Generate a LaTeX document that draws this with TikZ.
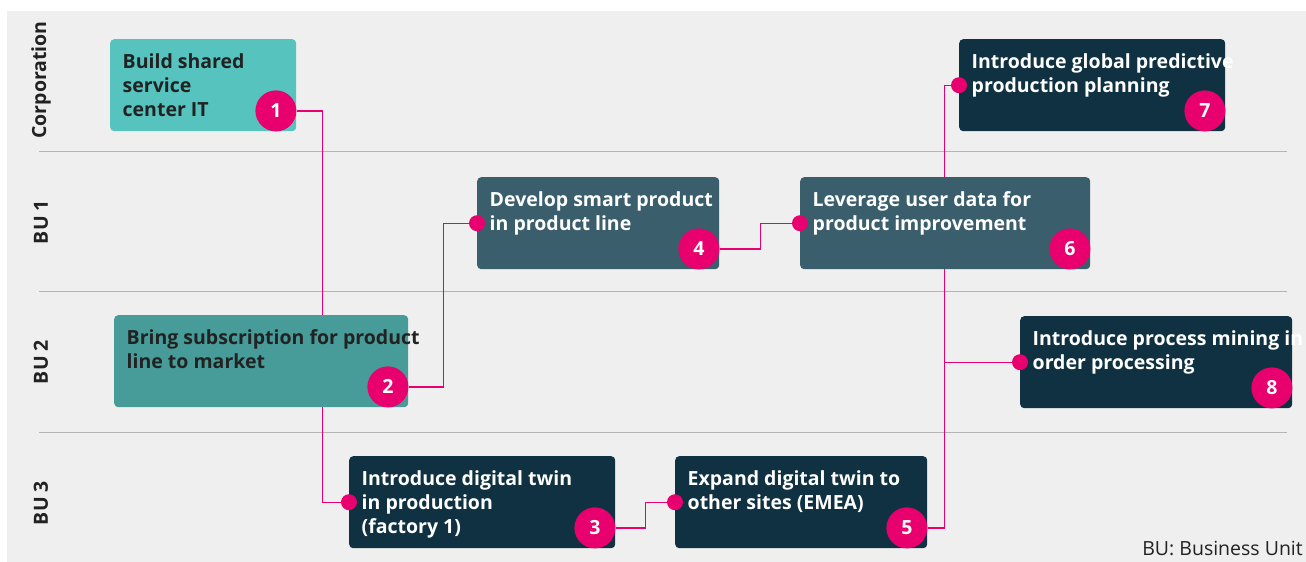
\documentclass[tikz,border=0pt]{standalone}
\usepackage{fontspec}
\setmainfont{Open Sans}
\usetikzlibrary{positioning}
\pgfdeclarelayer{back}
\pgfsetlayers{back,main}
\definecolor{lanebg}{HTML}{EFEFEF}
\definecolor{laneline}{HTML}{B4B4B4}
\definecolor{tealA}{HTML}{56C3BF}
\definecolor{tealB}{HTML}{479B99}
\definecolor{slate}{HTML}{3A5E6C}
\definecolor{navy}{HTML}{0F3141}
\definecolor{fhpink}{HTML}{E8006E}
\definecolor{ink}{HTML}{222222}
\tikzset{
  card/.style={rectangle, rounded corners=4pt, fill=#1, minimum height=92, anchor=north west, inner sep=0pt},
  cardtext/.style={anchor=north west, align=left, inner sep=0pt, font=\bfseries\fontsize{19.5}{24.2}\selectfont},
  badge/.style={circle, fill=fhpink, minimum size=41, inner sep=0pt, text=white, font=\bfseries\fontsize{19.5}{20}\selectfont},
  pin/.style={circle, fill=fhpink, minimum size=16, inner sep=0pt},
  wire/.style={fhpink, line width=1.3pt},
  lanename/.style={rotate=90, inner sep=0pt, text=ink, font=\bfseries\fontsize{19.5}{20}\selectfont}
}
\begin{document}
\begin{tikzpicture}[x=1pt,y=-1pt]
  \useasboundingbox (0,0) rectangle (1306,562);
  % cards
  \node[card=tealA, minimum width=186] (b1) at (110,39) {};
  \node[card=tealB, minimum width=294] (b2) at (114,315) {};
  \node[card=navy, minimum width=266] (b3) at (349,456) {};
  \node[card=slate, minimum width=242] (b4) at (477,177) {};
  \node[card=navy, minimum width=252] (b5) at (675,456) {};
  \node[card=slate, minimum width=290] (b6) at (800,177) {};
  \node[card=navy, minimum width=266] (b7) at (959,39) {};
  \node[card=navy, minimum width=272] (b8) at (1020,316) {};
  % texts
  \node[cardtext, text=ink] (t1) at ([xshift=12.5pt,yshift=-14pt]b1.north west) {Build shared\\service\\center IT};
  \node[cardtext, text=ink] (t2) at ([xshift=12.5pt,yshift=-14pt]b2.north west) {Bring subscription for product\\line to market};
  \node[cardtext, text=white] (t3) at ([xshift=12.5pt,yshift=-14pt]b3.north west) {Introduce digital twin\\in production\\(factory 1)};
  \node[cardtext, text=white] (t4) at ([xshift=12.5pt,yshift=-14pt]b4.north west) {Develop smart product\\in product line};
  \node[cardtext, text=white] (t5) at ([xshift=12.5pt,yshift=-14pt]b5.north west) {Expand digital twin to\\other sites (EMEA)};
  \node[cardtext, text=white] (t6) at ([xshift=12.5pt,yshift=-14pt]b6.north west) {Leverage user data for\\product improvement};
  \node[cardtext, text=white] (t7) at ([xshift=12.5pt,yshift=-14pt]b7.north west) {Introduce global predictive\\production planning};
  \node[cardtext, text=white] (t8) at ([xshift=12.5pt,yshift=-14pt]b8.north west) {Introduce process mining in\\order processing};
  % badges and pins
  \foreach \n in {1,...,8}
    \node[badge] (c\n) at ([xshift=-20.5pt,yshift=20.5pt]b\n.south east) {\n};
  \foreach \n in {3,...,8}
    \node[pin] (p\n) at (b\n.west) {};
  % lanes
  \node[lanename] (corp) at (41,80) {Corporation};
  \node[lanename] (bu1) at (41,222) {BU 1};
  \node[lanename] (bu2) at (41,362) {BU 2};
  \node[lanename] (bu3) at (41,503) {BU 3};
  \node[anchor=base east, inner sep=0pt, text=ink, font=\fontsize{19.5}{20}\selectfont] (legend) at (1303,555) {BU: Business Unit};
  \begin{pgfonlayer}{back}
    \fill[lanebg] (7,11) rectangle (1306,562);
    \foreach \y in {151,291,432}
      \draw[laneline, line width=1pt] (39,\y) -- (1287,\y);
    \draw[wire] (c1.east) -- ++(26,0) |- (p3);
    \draw[wire] (c2.east) -- ++(35,0) |- (p4);
    \draw[wire] (c4.east) -- ++(41,0) |- (p6);
    \draw[wire] (c3.east) -- ++(30,0) |- (p5);
    \draw[wire] (c5.east) -- ++(17,0) coordinate (knee5) |- (p7);
    \draw[wire] (knee5 |- p8) -- (p8);
  \end{pgfonlayer}
\end{tikzpicture}
\end{document}
